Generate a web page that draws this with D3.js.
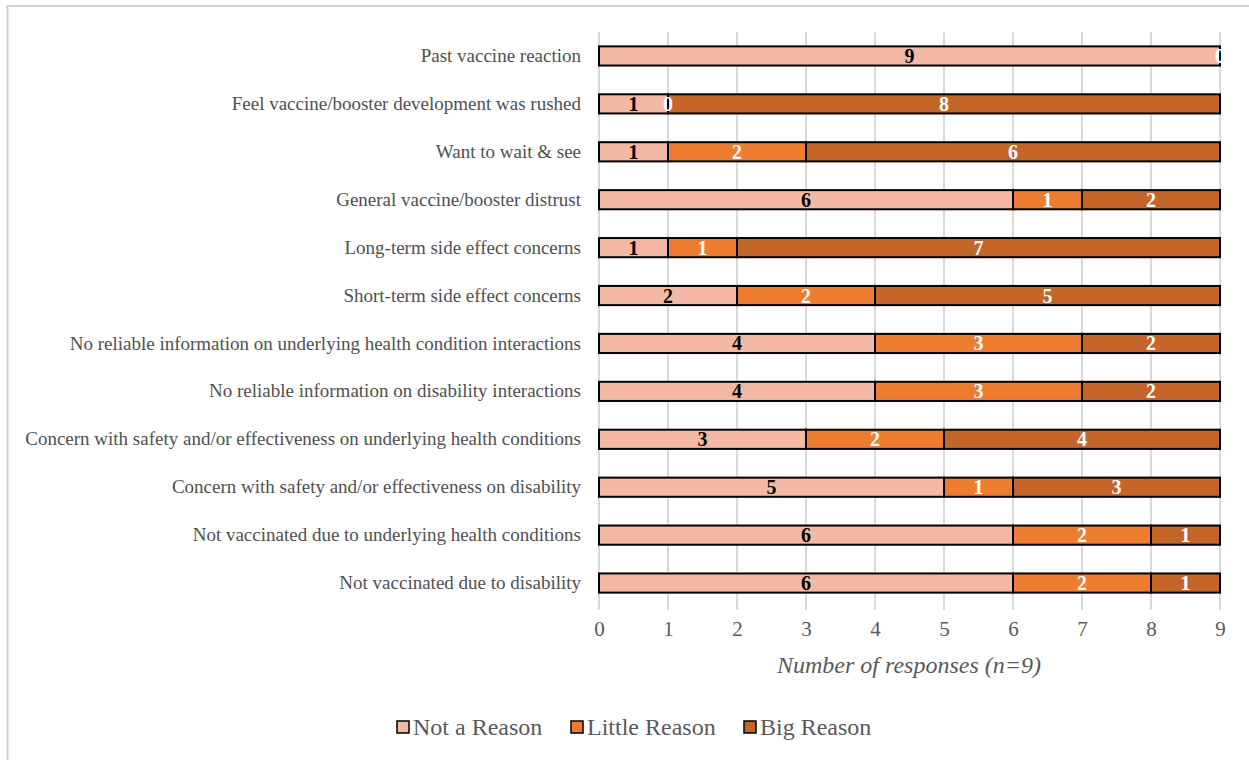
<!DOCTYPE html>
<html><head><meta charset="utf-8">
<script src="https://cdn.jsdelivr.net/npm/d3@7"></script>
<style>body{margin:0;background:#fff}svg{display:block}text{font-family:"Liberation Serif","Times New Roman",serif}</style>
</head><body><svg id="c" width="1249" height="760"></svg>
<script>
const categories = [
 "Past vaccine reaction",
 "Feel vaccine/booster development was rushed",
 "Want to wait & see",
 "General vaccine/booster distrust",
 "Long-term side effect concerns",
 "Short-term side effect concerns",
 "No reliable information on underlying health condition interactions",
 "No reliable information on disability interactions",
 "Concern with safety and/or effectiveness on underlying health conditions",
 "Concern with safety and/or effectiveness on disability",
 "Not vaccinated due to underlying health conditions",
 "Not vaccinated due to disability"
];
const notAReason    = [9,1,1,6,1,2,4,4,3,5,6,6];
const littleReason  = [0,0,2,1,1,2,3,3,2,1,2,2];
const bigReason     = [0,8,6,2,7,5,2,2,4,3,1,1];
const seriesNames = ["Not a Reason","Little Reason","Big Reason"];
const seriesColors = ["#F4B9A5","#ED7D31","#C4652A"];
const labelColors = ["#000","#fff","#fff"];
const xTicks = [0,1,2,3,4,5,6,7,8,9];

const svg = d3.select("#c");
svg.append("rect").attr("x",7.5).attr("y",6).attr("width",1260).attr("height",770)
  .attr("fill","none").attr("stroke","#d0d0d0").attr("stroke-width",2);

const x = d3.scaleLinear().domain([0,9]).range([599,1220]);
const y = d3.scaleBand().domain(categories).range([32,607]).paddingInner(0.6).paddingOuter(0.3);

// grid
svg.append("g").selectAll("line").data(xTicks).join("line")
  .attr("x1",d=>x(d)).attr("x2",d=>x(d)).attr("y1",32).attr("y2",610)
  .attr("stroke","#d9d9d9").attr("stroke-width",2);

const series = [notAReason, littleReason, bigReason];
const rows = categories.map((c,i)=>{
  let acc=0;
  return series.map((s,k)=>{const r={c,k,v:s[i],x0:acc,x1:acc+s[i]};acc+=s[i];return r;});
});
const segs = rows.flat();

svg.append("g").selectAll("rect").data(segs.filter(d=>d.v>0)).join("rect")
  .attr("x",d=>x(d.x0)).attr("width",d=>x(d.x1)-x(d.x0))
  .attr("y",d=>y(d.c)).attr("height",y.bandwidth())
  .attr("fill",d=>seriesColors[d.k]).attr("stroke","#000").attr("stroke-width",2);

svg.append("g").selectAll("text").data(segs).join("text")
  .attr("x",d=>x((d.x0+d.x1)/2)).attr("y",d=>y(d.c)+y.bandwidth()/2+7)
  .attr("text-anchor","middle").attr("font-weight","bold").attr("font-size",20)
  .attr("fill",d=>labelColors[d.k]).text(d=>d.v);

// category labels
const ax = d3.axisLeft(y).tickSize(0).tickPadding(18);
const gy = svg.append("g").attr("transform","translate(599,0)").call(ax);
gy.select(".domain").remove();
gy.selectAll("text").attr("font-size",19).attr("fill","#505050").attr("font-family","'Liberation Serif',serif");

// x axis labels
const axx = d3.axisBottom(x).tickValues(xTicks).tickSize(0).tickPadding(0);
const gx = svg.append("g").attr("transform","translate(0,621)").call(axx);
gx.select(".domain").remove();
gx.selectAll("text").attr("font-size",21).attr("fill","#595959").attr("font-family","'Liberation Serif',serif");

svg.append("text").attr("x",909).attr("y",673).attr("text-anchor","middle")
  .attr("font-style","italic").attr("font-size",24).attr("fill","#595959")
  .text("Number of responses (n=9)");

// legend
const legX = [397,571,744];
const lg = svg.append("g").selectAll("g").data(seriesNames).join("g")
  .attr("transform",(d,i)=>`translate(${legX[i]},727)`);
lg.append("rect").attr("x",0).attr("y",-6).attr("width",12).attr("height",12)
  .attr("fill",(d,i)=>seriesColors[i]).attr("stroke","#000").attr("stroke-width",1.5);
lg.append("text").attr("x",16).attr("y",8).attr("font-size",24).attr("fill","#595959").text(d=>d);
</script></body></html>
